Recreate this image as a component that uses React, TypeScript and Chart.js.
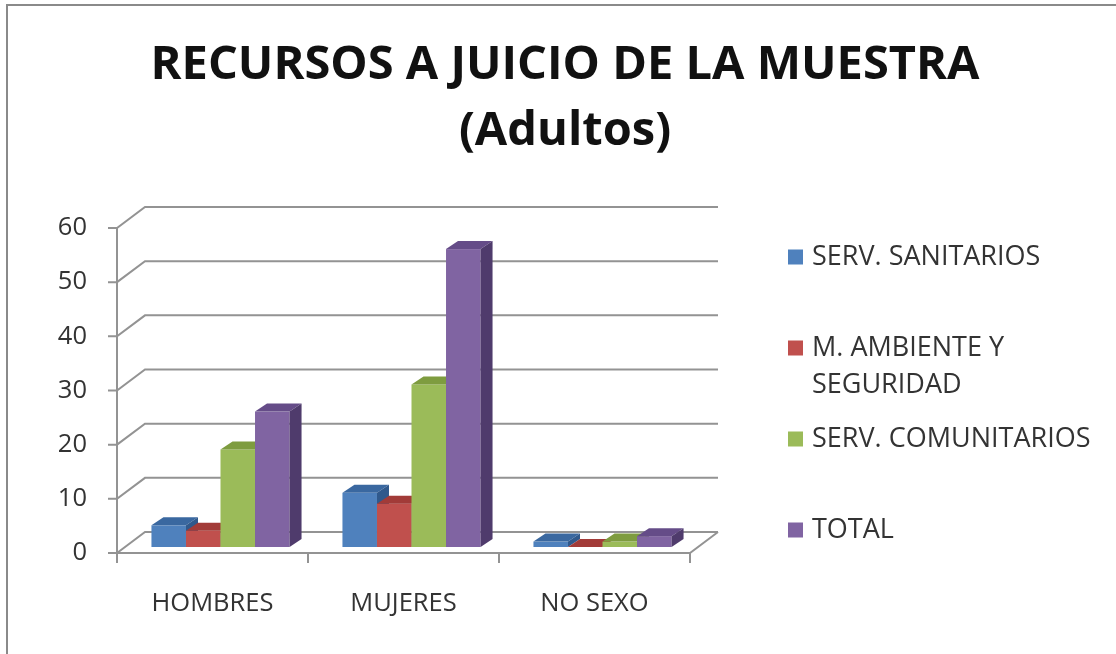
import React, { useEffect, useRef } from 'react';
import { Chart, registerables } from 'chart.js';

Chart.register(...registerables);

// ---- Data ----
const categories = ['HOMBRES', 'MUJERES', 'NO SEXO'];
const seriesNames = ['SERV. SANITARIOS', 'M. AMBIENTE Y SEGURIDAD', 'SERV. COMUNITARIOS', 'TOTAL'];
const servSanitarios = [4, 10, 1];
const mAmbienteSeguridad = [3, 8, 0];
const servComunitarios = [18, 30, 1];
const totalValues = [25, 55, 2];
const yTickValues = [0, 10, 20, 30, 40, 50, 60];
const titleLines = ['RECURSOS A JUICIO DE LA MUESTRA', '(Adultos)'];

// ---- Styles ----
const FONT = '"Open Sans"';
const frontColors = ['#4F81BD', '#C0504D', '#9BBB59', '#8064A2'];
const topColors = ['#3A68A0', '#A23B38', '#7E9C3F', '#654C88'];
const sideColors = ['#30598C', '#8A302D', '#6A8634', '#4F3B6C'];
const GRID = '#939393';
const TEXT = '#333333';
const FLOOR_DX = 28;
const FLOOR_DY = -21;
const BAR_FX = 8;
const BAR_FY = -6;
const BAR_DX = 12;
const BAR_DY = -8;

const threeDPlugin = {
  id: 'threeD',
  beforeDraw(chart: any) {
    const ctx = chart.ctx;
    ctx.save();
    ctx.strokeStyle = '#8a8a8a';
    ctx.lineWidth = 2;
    ctx.beginPath();
    ctx.moveTo(7, chart.height);
    ctx.lineTo(7, 5);
    ctx.lineTo(chart.width, 5);
    ctx.stroke();
    ctx.restore();
  },
  beforeDatasetsDraw(chart: any) {
    const { ctx, chartArea: a, scales } = chart;
    const ys = scales.y;
    const xs = scales.x;
    ctx.save();
    ctx.strokeStyle = GRID;
    ctx.lineWidth = 2;
    // back wall gridlines, left wall diagonals, front ticks
    ys.ticks.forEach((t: any) => {
      const y = ys.getPixelForValue(t.value);
      ctx.beginPath();
      ctx.moveTo(a.left - 9, y);
      ctx.lineTo(a.left, y);
      ctx.lineTo(a.left + FLOOR_DX, y + FLOOR_DY);
      ctx.lineTo(a.right + FLOOR_DX, y + FLOOR_DY);
      ctx.stroke();
    });
    const y0 = ys.getPixelForValue(ys.min);
    const yTop = ys.getPixelForValue(ys.max);
    // floor front & right edges
    ctx.beginPath();
    ctx.moveTo(a.left, y0);
    ctx.lineTo(a.right, y0);
    ctx.lineTo(a.right + FLOOR_DX, y0 + FLOOR_DY);
    ctx.stroke();
    // front vertical axis
    ctx.beginPath();
    ctx.moveTo(a.left, yTop);
    ctx.lineTo(a.left, y0);
    ctx.stroke();
    // category ticks
    for (let i = 0; i <= categories.length; i++) {
      const x = xs.getPixelForValue(i - 0.5);
      ctx.beginPath();
      ctx.moveTo(x, y0);
      ctx.lineTo(x, y0 + 10);
      ctx.stroke();
    }
    // 3D bars
    const poly = (pts: number[][], color: string) => {
      ctx.beginPath();
      ctx.moveTo(pts[0][0], pts[0][1]);
      for (let k = 1; k < pts.length; k++) ctx.lineTo(pts[k][0], pts[k][1]);
      ctx.closePath();
      ctx.fillStyle = color;
      ctx.fill();
    };
    const nSets = chart.data.datasets.length;
    for (let j = 0; j < categories.length; j++) {
      for (let i = 0; i < nSets; i++) {
        const bar = chart.getDatasetMeta(i).data[j];
        if (!bar) continue;
        const p = bar.getProps(['x', 'y', 'base', 'width'], true);
        const L = p.x - p.width / 2 + BAR_FX;
        const R = p.x + p.width / 2 + BAR_FX;
        const T = p.y + BAR_FY;
        const B = p.base + BAR_FY;
        ctx.fillStyle = frontColors[i];
        ctx.fillRect(L, T, R - L, B - T);
        poly([[L, T], [L + BAR_DX, T + BAR_DY], [R + BAR_DX, T + BAR_DY], [R, T]], topColors[i]);
        poly([[R, T], [R + BAR_DX, T + BAR_DY], [R + BAR_DX, B + BAR_DY], [R, B]], sideColors[i]);
      }
    }
    ctx.restore();
    return false;
  },
  afterDraw(chart: any) {
    const { ctx, chartArea: a } = chart;
    const size = 27;
    const step = 91;
    const lineH = 37;
    const boxX = 788;
    const box = 15;
    const textX = 812;
    const maxW = 290;
    const y0 = (a.top + a.bottom) / 2 + 3 - 1.5 * step;
    ctx.save();
    ctx.font = `${size}px ${FONT}`;
    ctx.textBaseline = 'middle';
    ctx.textAlign = 'left';
    chart.data.datasets.forEach((ds: any, i: number) => {
      const words = String(ds.label).split(' ');
      const lines: string[] = [];
      let cur = '';
      words.forEach((w) => {
        const test = cur ? cur + ' ' + w : w;
        if (cur && ctx.measureText(test).width > maxW) {
          lines.push(cur);
          cur = w;
        } else cur = test;
      });
      if (cur) lines.push(cur);
      const y = y0 + i * step;
      ctx.fillStyle = ds.backgroundColor;
      ctx.fillRect(boxX, y - box / 2, box, box);
      ctx.fillStyle = TEXT;
      lines.forEach((ln, k) => ctx.fillText(ln, textX, y + k * lineH));
    });
    ctx.restore();
  },
};

export default function App() {
  const ref = useRef<HTMLCanvasElement>(null);
  useEffect(() => {
    if (!ref.current) return;
    const seriesValues = [servSanitarios, mAmbienteSeguridad, servComunitarios, totalValues];
    const chart = new Chart(ref.current, {
      type: 'bar',
      data: {
        labels: categories,
        datasets: seriesNames.map((name, i) => ({
          label: name,
          data: seriesValues[i],
          backgroundColor: frontColors[i],
          barPercentage: 1,
          categoryPercentage: 0.723,
        })),
      },
      options: {
        responsive: false,
        animation: false,
        devicePixelRatio: 1,
        layout: { padding: { left: 14, top: 0, right: 0, bottom: 0 } },
        plugins: {
          legend: { display: false },
          tooltip: { enabled: false },
          title: {
            display: true,
            text: titleLines,
            color: '#111111',
            font: { family: FONT, size: 47, weight: 'bold', lineHeight: '65.5px' },
            padding: { top: 33.25, bottom: 63.75 },
          },
        },
        scales: {
          x: {
            grid: { display: false, drawTicks: false },
            border: { display: false },
            ticks: { color: TEXT, font: { family: FONT, size: 25.5 }, padding: 35 },
            afterFit: (s: any) => { s.height = 101; },
          },
          y: {
            min: 0,
            max: 60,
            afterBuildTicks: (s: any) => { s.ticks = yTickValues.map((v) => ({ value: v })); },
            grid: { display: false, drawTicks: false },
            border: { display: false },
            ticks: { color: TEXT, font: { family: FONT, size: 25.5 }, padding: 30 },
            afterFit: (s: any) => { s.width = 103; },
          },
          yRight: {
            type: 'linear',
            position: 'right',
            display: true,
            grid: { display: false, drawTicks: false },
            border: { display: false },
            ticks: { display: false },
            afterFit: (s: any) => { s.width = 426; },
          },
        },
      } as any,
      plugins: [threeDPlugin as any],
    });
    return () => chart.destroy();
  }, []);
  return (
    <div style={{ position: 'fixed', left: 0, top: 0, width: 1116, height: 654, background: '#fff' }}>
      <canvas ref={ref} width={1116} height={654} style={{ display: 'block' }} />
    </div>
  );
}
